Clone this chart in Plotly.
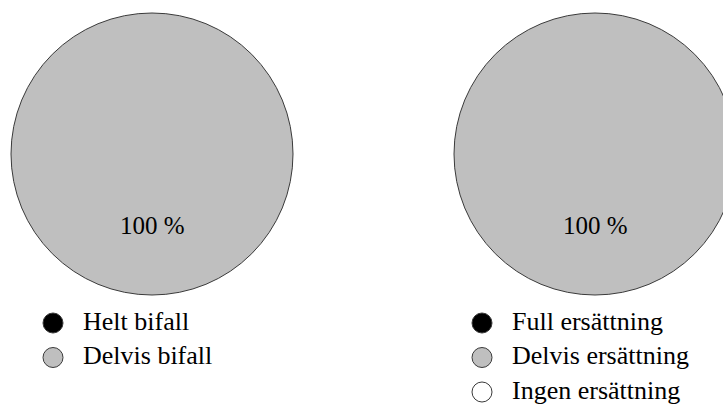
import plotly.graph_objects as go

# Decision outcomes, share of cases (%)
left_labels = ["Helt bifall", "Delvis bifall"]
left_values = [0, 100]
left_colors = ["#000000", "#bfbfbf"]

right_labels = ["Full ersättning", "Delvis ersättning", "Ingen ersättning"]
right_values = [0, 100, 0]
right_colors = ["#000000", "#bfbfbf", "#ffffff"]

VIEW_W = 723
W, H = 740, 407
FONT = "Liberation Serif, Times New Roman, serif"
OUTLINE = "#3a3a3a"


def px_x(v):
    return v / W


def px_y(v):
    return 1 - v / H


fig = go.Figure()

panels = [
    # labels, values, colours, pie x-extent (px), legend marker/text x (px), axis suffix
    (left_labels, left_values, left_colors, [11, 293], [53, 83], "2"),
    (right_labels, right_values, right_colors, [454, 736], [482, 512], "3"),
]

LEG_TOP, LEG_BOTTOM, MAX_ROWS = 323, 392, 3

for labels, values, colors, xr, lx, ax in panels:
    shown = [(l, v, c) for l, v, c in zip(labels, values, colors) if v > 0]
    fig.add_trace(go.Pie(
        labels=[s[0] for s in shown], values=[s[1] for s in shown],
        marker=dict(colors=[s[2] for s in shown], line=dict(color=OUTLINE, width=1)),
        sort=False, direction="clockwise", textinfo="none",
        hoverinfo="label+percent", showlegend=False,
        domain=dict(x=[px_x(xr[0]), px_x(xr[1])], y=[px_y(295), px_y(13)]),
    ))
    total = sum(values)
    for v in values:
        if v > 0:
            fig.add_annotation(
                x=px_x((xr[0] + xr[1]) / 2), y=px_y(225), xref="paper", yref="paper",
                xanchor="center", yanchor="middle",
                text=f"{round(100 * v / total)} %", showarrow=False,
                font=dict(family=FONT, size=25, color="black"),
            )

    # key: one row per category, symbol column at x=0, label column at x=1
    rows = list(range(len(labels)))
    fig.add_trace(go.Scatter(
        x=[0] * len(rows), y=rows, mode="markers", showlegend=False,
        xaxis="x" + ax, yaxis="y" + ax, cliponaxis=False, hoverinfo="skip",
        marker=dict(symbol="circle", size=20, color=colors,
                    line=dict(color=OUTLINE, width=1)),
    ))
    fig.add_trace(go.Scatter(
        x=[1] * len(rows), y=rows, mode="text", text=labels, showlegend=False,
        textposition="middle right", xaxis="x" + ax, yaxis="y" + ax,
        cliponaxis=False, hoverinfo="skip",
        textfont=dict(family=FONT, size=26, color="black"),
    ))
    hidden = dict(visible=False, showgrid=False, zeroline=False, fixedrange=True)
    fig.update_layout({
        "xaxis" + ax: dict(domain=[px_x(lx[0]), px_x(lx[1])], range=[0, 1],
                           anchor="y" + ax, **hidden),
        "yaxis" + ax: dict(domain=[px_y(LEG_BOTTOM), px_y(LEG_TOP)],
                           range=[MAX_ROWS - 1, 0], anchor="x" + ax, **hidden),
    })

fig.update_layout(
    width=W, height=H,
    margin=dict(l=0, r=0, t=0, b=0),
    paper_bgcolor="white", plot_bgcolor="white",
    showlegend=False,
)

# the right-hand pie runs past the page edge; crop the page to the view width
crop_js = (
    "var gd=document.getElementById('{plot_id}');"
    "var box=gd.parentElement;"
    f"box.style.width='{VIEW_W}px';box.style.overflow='hidden';"
    "document.body.style.overflow='hidden';"
    "document.documentElement.style.overflow='hidden';"
)

fig.write_html("out.html", post_script=crop_js)
